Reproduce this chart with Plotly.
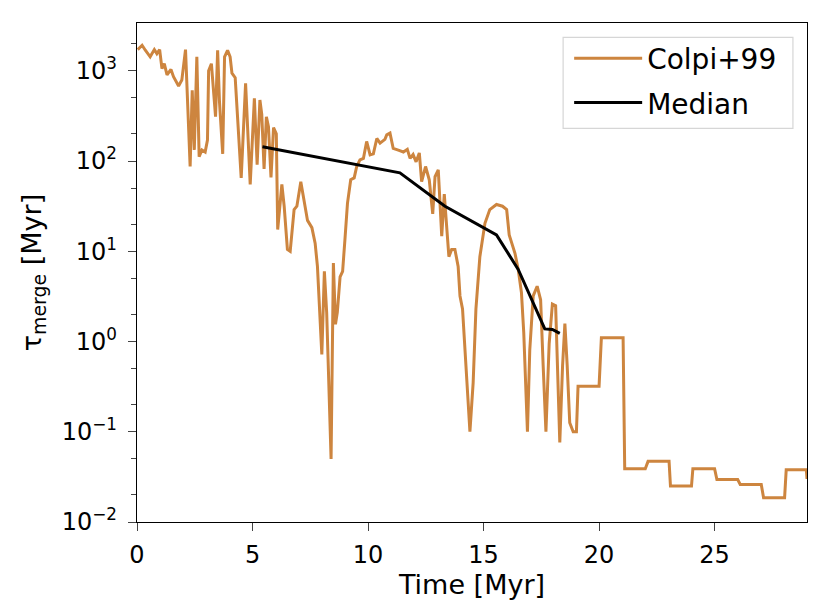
import plotly.graph_objects as go

# Colpi+99 merger timescale vs time
time_myr = [0.03, 0.22, 0.36, 0.57, 0.75, 0.86, 0.98, 1.08, 1.18, 1.30, 1.47, 1.58, 1.80, 1.94,
            2.10, 2.30, 2.39, 2.48, 2.59, 2.69, 2.81, 2.95, 3.05, 3.10, 3.22, 3.31, 3.40, 3.49, 3.57,
            3.71, 3.79, 3.92, 4.03, 4.11, 4.25, 4.51, 4.70, 4.90, 5.08, 5.20, 5.32, 5.40, 5.50, 5.60,
            5.69, 5.80, 5.91, 6.03, 6.09, 6.27, 6.37, 6.51, 6.63, 6.80, 6.92, 7.09, 7.23, 7.38,
            7.57, 7.71, 7.81, 7.90, 8.00, 8.11, 8.21, 8.40, 8.50, 8.59, 8.67, 8.79, 8.90, 9.00,
            9.11, 9.25, 9.40, 9.51, 9.65, 9.80, 9.94, 10.09, 10.23, 10.38, 10.52, 10.73, 10.81,
            10.95, 11.09, 11.31, 11.53, 11.70, 11.82, 11.95, 12.08, 12.22, 12.32, 12.49, 12.65,
            12.80, 12.90, 13.04, 13.19, 13.30, 13.37, 13.50, 13.62, 13.76, 13.90, 13.98, 14.09,
            14.24, 14.41, 14.55, 14.67, 14.84, 15.06, 15.27, 15.56, 15.82, 16.00, 16.11, 16.36,
            16.50, 16.64, 16.74, 16.83, 16.90, 17.00, 17.15, 17.32, 17.47, 17.58, 17.70, 17.84,
            17.98, 18.12, 18.20, 18.30, 18.42, 18.52, 18.62, 18.73, 18.88, 19.02, 19.09, 20.00,
            20.10, 21.04, 21.11, 22.00, 22.12, 23.03, 23.09, 24.00, 24.06, 25.00, 25.10, 26.00,
            26.11, 27.02, 27.12, 28.03, 28.10, 28.97, 29.00]
tau_merge = [1720, 1920, 1690, 1430, 1720, 1550, 1720, 1060, 1200, 900, 1035, 860, 680, 790,
             1720, 87, 610, 133, 1430, 112, 133, 126, 171, 1000, 1200, 540, 310, 1690, 455,
             120, 1430, 1690, 1430, 940, 840, 65, 725, 55, 495, 91, 475, 330, 82, 310,
             240, 66, 235, 200, 17.4, 55, 31.6, 10.5, 10, 29, 31.6, 59, 37, 22,
             18.3, 12.3, 6.8, 2.1, 0.72, 6.0, 2.1, 0.05, 7.4, 1.55, 2.1, 5.2, 6.0, 13.5,
             34, 62, 65, 87, 103, 107, 165, 117, 120, 178, 158, 174, 195,
             204, 138, 132, 126, 135, 107, 118, 98, 123, 59, 87, 62,
             26, 67, 80, 14.7, 43, 26, 8.7, 10.5, 10.5, 6.8, 3.2, 2.3,
             0.54, 0.10, 0.35, 2.3, 8.7, 20.4, 29, 33, 31.6, 29, 15.2, 9.5,
             6.3, 3.5, 1.26, 0.36, 0.10, 0.8, 3.2, 4.1, 2.9, 0.54, 0.10, 0.95,
             2.6, 2.5, 0.54, 0.076, 0.54, 1.58, 0.54, 0.126, 0.10, 0.10, 0.32, 0.32,
             1.1, 1.1, 0.039, 0.039, 0.047, 0.047, 0.025, 0.025, 0.039, 0.039, 0.0295, 0.0295,
             0.026, 0.026, 0.0186, 0.0186, 0.038, 0.038, 0.030]

# binned median
median_time = [5.43, 11.38, 13.33, 15.56, 16.50, 17.65, 17.98, 18.30]
median_tau = [144, 74, 31.6, 15.2, 6.3, 1.38, 1.36, 1.23]

ytick_vals = [0.01, 0.1, 1, 10, 100, 1000]
ytick_text = ["10<sup>\u22122</sup>", "10<sup>\u22121</sup>", "10<sup>0</sup>",
              "10<sup>1</sup>", "10<sup>2</sup>", "10<sup>3</sup>"]

fig = go.Figure()
fig.add_trace(go.Scatter(x=time_myr, y=tau_merge, mode='lines', name='Colpi+99',
                         legendgroup='a', line=dict(color='#cd853f', width=3)))
fig.add_trace(go.Scatter(x=median_time, y=median_tau, mode='lines', name='Median',
                         legendgroup='b', line=dict(color='black', width=3)))

# legend frame (matplotlib style)
fig.add_shape(type='rect', xref='paper', yref='paper', x0=0.636, x1=0.979, y0=0.789, y1=0.971,
              line=dict(color='#d6d6d6', width=1.2), fillcolor='rgba(255,255,255,0.8)',
              layer='below')

fig.update_layout(
    width=831, height=615,
    margin=dict(l=129, r=32, t=15, b=101),
    plot_bgcolor='white', paper_bgcolor='white',
    font=dict(family='DejaVu Sans', size=24, color='black'),
    legend=dict(x=0.645, y=0.979, xanchor='left', yanchor='top',
                borderwidth=0, bgcolor='rgba(0,0,0,0)', itemwidth=68,
                traceorder='grouped', tracegroupgap=5,
                font=dict(size=28)),
    showlegend=True,
)
fig.update_xaxes(range=[0, 29], tickvals=[0, 5, 10, 15, 20, 25], ticks='outside',
                 ticklen=8, tickwidth=1.3, ticklabelstandoff=3,
                 showline=True, linecolor='black', linewidth=1.3,
                 mirror=True, showgrid=False, zeroline=False,
                 title=dict(text='Time [Myr]', standoff=2, font=dict(size=27)))
fig.update_yaxes(type='log', range=[-2, 3.53], tickvals=ytick_vals, ticktext=ytick_text,
                 ticks='outside', ticklen=8, tickwidth=1.3, ticklabelstandoff=6,
                 showline=True, linecolor='black',
                 linewidth=1.3, mirror=True, showgrid=False, zeroline=False,
                 minor=dict(ticks='outside', ticklen=4.5, tickwidth=1, showgrid=False),
                 title=dict(text='\u03c4<sub>merge</sub> [Myr]', standoff=12, font=dict(size=27)))

fig.write_html("out.html")
